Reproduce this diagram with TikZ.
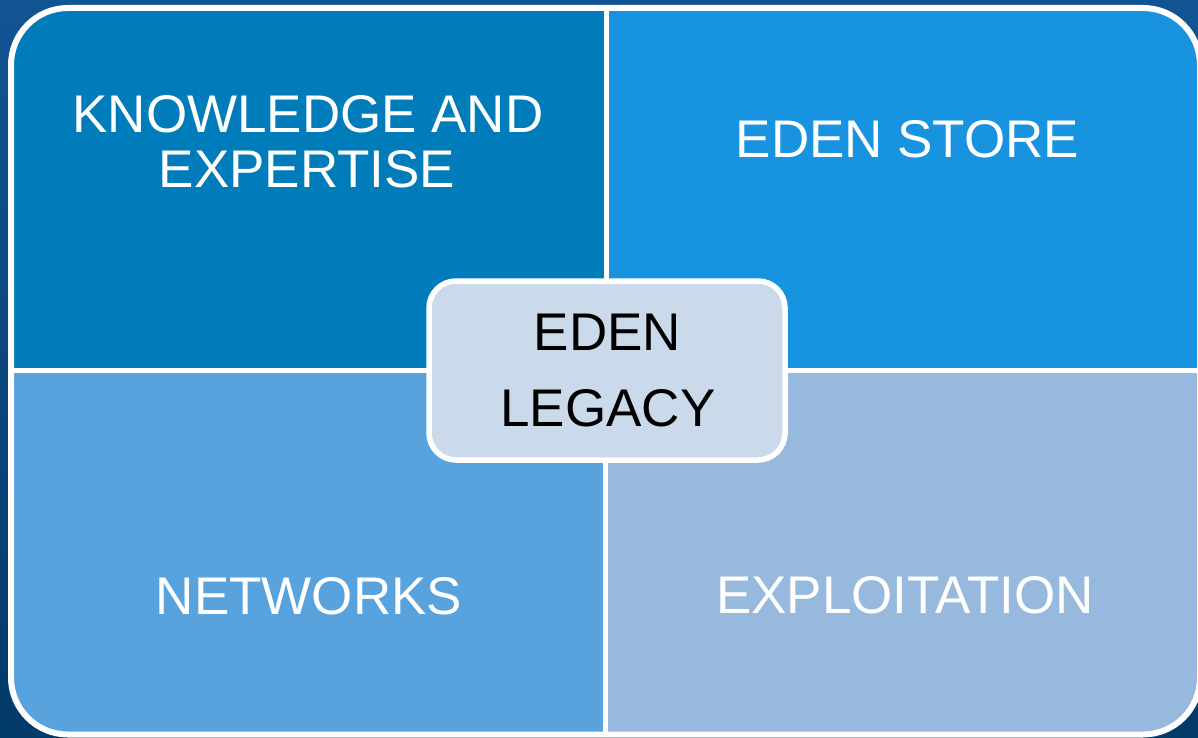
\documentclass[tikz,border=0pt]{standalone}
\usepackage{fontspec}
\setmainfont{Liberation Sans}
\definecolor{bgtop}{HTML}{125493}
\definecolor{bgbot}{HTML}{023A68}
\definecolor{qtl}{HTML}{007CBA}
\definecolor{qtr}{HTML}{1893E0}
\definecolor{qbl}{HTML}{58A2DD}
\definecolor{qbr}{HTML}{97B9DD}
\definecolor{cbox}{HTML}{CBDAEA}
\tikzset{
  lbl/.style={anchor=base, text=white, inner sep=0pt, font=\fontsize{53}{55}\selectfont},
  clbl/.style={anchor=base, text=black, inner sep=0pt, font=\fontsize{53}{55}\selectfont},
  divider/.style={draw=white, line width=5pt},
  centerbox/.style={draw=white, line width=5.5pt, fill=cbox, rounded corners=27pt}
}
\begin{document}
\begin{tikzpicture}[x=1pt,y=-1pt]
\useasboundingbox (0,0) rectangle (1198,738);
\shade[top color=bgtop, bottom color=bgbot] (0,0) rectangle (1198,738);
\begin{scope}
  \clip[rounded corners=57pt] (11,8) rectangle (1200,734.5);
  \fill[qtl] (0,0) rectangle (606,371);
  \fill[qtr] (606,0) rectangle (1210,371);
  \fill[qbl] (0,371) rectangle (605,740);
  \fill[qbr] (605,371) rectangle (1210,740);
  \draw[divider] (606.5,0) -- (606.5,371);
  \draw[divider] (605,371) -- (605,740);
  \draw[divider] (0,370.5) -- (1210,370.5);
\end{scope}
\draw[draw=white, line width=6pt, rounded corners=57pt] (11,8) rectangle (1200,734.5);
\node[lbl] (kn1) at (308,133) {KNOWLEDGE AND};
\node[lbl] (kn2) at (307,187.5) {EXPERTISE};
\node[lbl] (store) at (907.5,158) {EDEN STORE};
\node[lbl] (net) at (309,614) {NETWORKS};
\node[lbl] (exp) at (905,613) {EXPLOITATION};
\node[centerbox, minimum width=356pt, minimum height=179pt, inner sep=0pt] (legacy) at (607,370.5) {};
\node[clbl] (leg1) at (607.5,350) {EDEN};
\node[clbl] (leg2) at (608,426) {LEGACY};
\end{tikzpicture}
\end{document}
